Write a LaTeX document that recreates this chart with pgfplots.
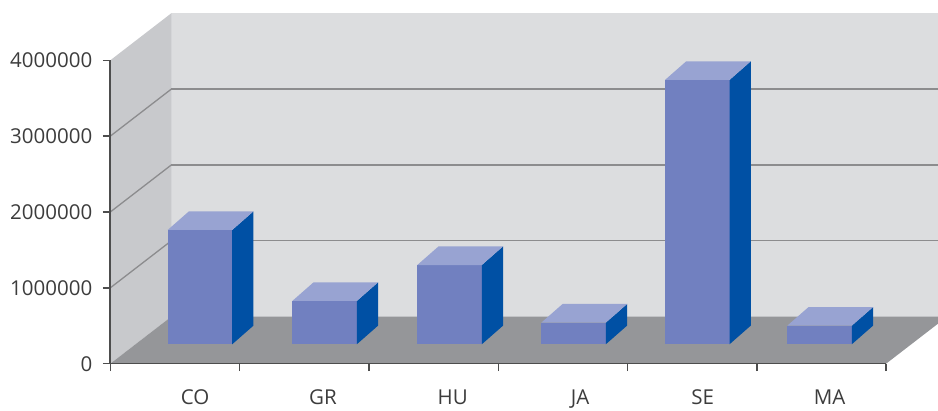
\documentclass[border=0pt]{standalone}
\usepackage{fontspec}
\setmainfont{Open Sans}
\usepackage{pgfplots}
\usepackage{pgfplotstable}
\pgfplotsset{compat=1.18}

\definecolor{barfront}{RGB}{113,128,192}
\definecolor{bartop}{RGB}{152,163,210}
\definecolor{barside}{RGB}{0,80,164}
\definecolor{floorc}{RGB}{149,150,153}
\definecolor{leftwall}{RGB}{200,201,204}
\definecolor{backwall}{RGB}{220,221,223}
\definecolor{gridc}{RGB}{140,140,142}
\definecolor{axisc}{RGB}{77,77,77}
\definecolor{textc}{RGB}{60,60,60}

% bar data: left edge of front face (x, px units) and value
\pgfplotstableread{
cat left value
CO 167.7 1507000
GR 292.3 571000
HU 417.3 1045000
JA 541.3 285000
SE 665.0 3485000
MA 787.3 245000
}\bardata

% unit faces of a box: a = across, s = depth, w = height
\pgfplotstableread{
a s w
0 0 0
1 0 0
1 0 1
0 0 1
}\facefront
\pgfplotstableread{
a s w
1 0 0
1 1 0
1 1 1
1 0 1
}\faceside
\pgfplotstableread{
a s w
0 0 1
1 0 1
1 1 1
0 1 1
}\facetop

\newcommand{\drawbar}[2]{%
  \addplot[fill=barfront, draw=none] table[x expr={#1+64.5*\thisrow{a}+21.3*\thisrow{s}}, y expr={255800+246500*\thisrow{s}+#2*\thisrow{w}}] {\facefront};
  \addplot[fill=barside, draw=none] table[x expr={#1+64.5*\thisrow{a}+21.3*\thisrow{s}}, y expr={255800+246500*\thisrow{s}+#2*\thisrow{w}}] {\faceside};
  \addplot[fill=bartop, draw=none] table[x expr={#1+64.5*\thisrow{a}+21.3*\thisrow{s}}, y expr={255800+246500*\thisrow{s}+#2*\thisrow{w}}] {\facetop};
}

\begin{document}
\begin{tikzpicture}
\begin{axis}[
  name=ax,
  scale only axis,
  width=775.8pt, height=303.4pt,
  xmin=110.3, xmax=886.1, ymin=0, ymax=4000000,
  enlargelimits=false,
  clip=false,
  axis on top=true,
  scaled y ticks=false,
  axis x line=bottom, axis y line=left,
  axis line style={-, draw=axisc, line width=1.6pt},
  tick align=outside,
  major tick length=7.5pt,
  tick style={draw=axisc, line width=1.4pt},
  ytick={0,1000000,2000000,3000000,4000000},
  yticklabels={0,1000000,2000000,3000000,4000000},
  xtick={110.3,239.6,368.9,498.2,627.5,756.8,886.1},
  xticklabels={},
  extra x ticks={195,323,452.7,580,702.7,829.5},
  extra x tick labels={CO,GR,HU,JA,SE,MA},
  extra x tick style={major tick length=0pt, tick style={draw=none}},
  tick label style={font=\fontsize{20.5}{24}\selectfont, text=textc},
  yticklabel style={xshift=-7pt},
  xticklabel style={inner sep=0pt, yshift=-26pt},
]
% walls and floor
\addplot[fill=backwall, draw=none] coordinates {(171.3,620000) (945,620000) (945,4620000) (171.3,4620000)};
\addplot[fill=leftwall, draw=none] coordinates {(110.3,0) (171.3,620000) (171.3,4620000) (110.3,4000000)};
% grid lines on back wall
\addplot[draw=gridc, line width=1.3pt] coordinates {(171.3,1620000) (945,1620000)};
\addplot[draw=gridc, line width=1.3pt] coordinates {(171.3,2620000) (945,2620000)};
\addplot[draw=gridc, line width=1.3pt] coordinates {(171.3,3620000) (945,3620000)};
% grid lines on left wall
\addplot[draw=gridc, line width=1.3pt] coordinates {(110.3,1000000) (171.3,1620000)};
\addplot[draw=gridc, line width=1.3pt] coordinates {(110.3,2000000) (171.3,2620000)};
\addplot[draw=gridc, line width=1.3pt] coordinates {(110.3,3000000) (171.3,3620000)};
% floor
\addplot[fill=floorc, draw=none] coordinates {(110.3,0) (886.1,0) (947.1,620000) (171.3,620000)};
% bars
\pgfplotsinvokeforeach{0,...,5}{
  \pgfplotstablegetelem{#1}{left}\of\bardata \let\bl\pgfplotsretval
  \pgfplotstablegetelem{#1}{value}\of\bardata \let\bv\pgfplotsretval
  \edef\dobar{\noexpand\drawbar{\bl}{\bv}}\dobar
}
\end{axis}
\pgfresetboundingbox
\path[use as bounding box] ([shift={(-110.3pt,-47.3pt)}]ax.south west) rectangle ([shift={(827.7pt,363.7pt)}]ax.south west);
\end{tikzpicture}
\end{document}
